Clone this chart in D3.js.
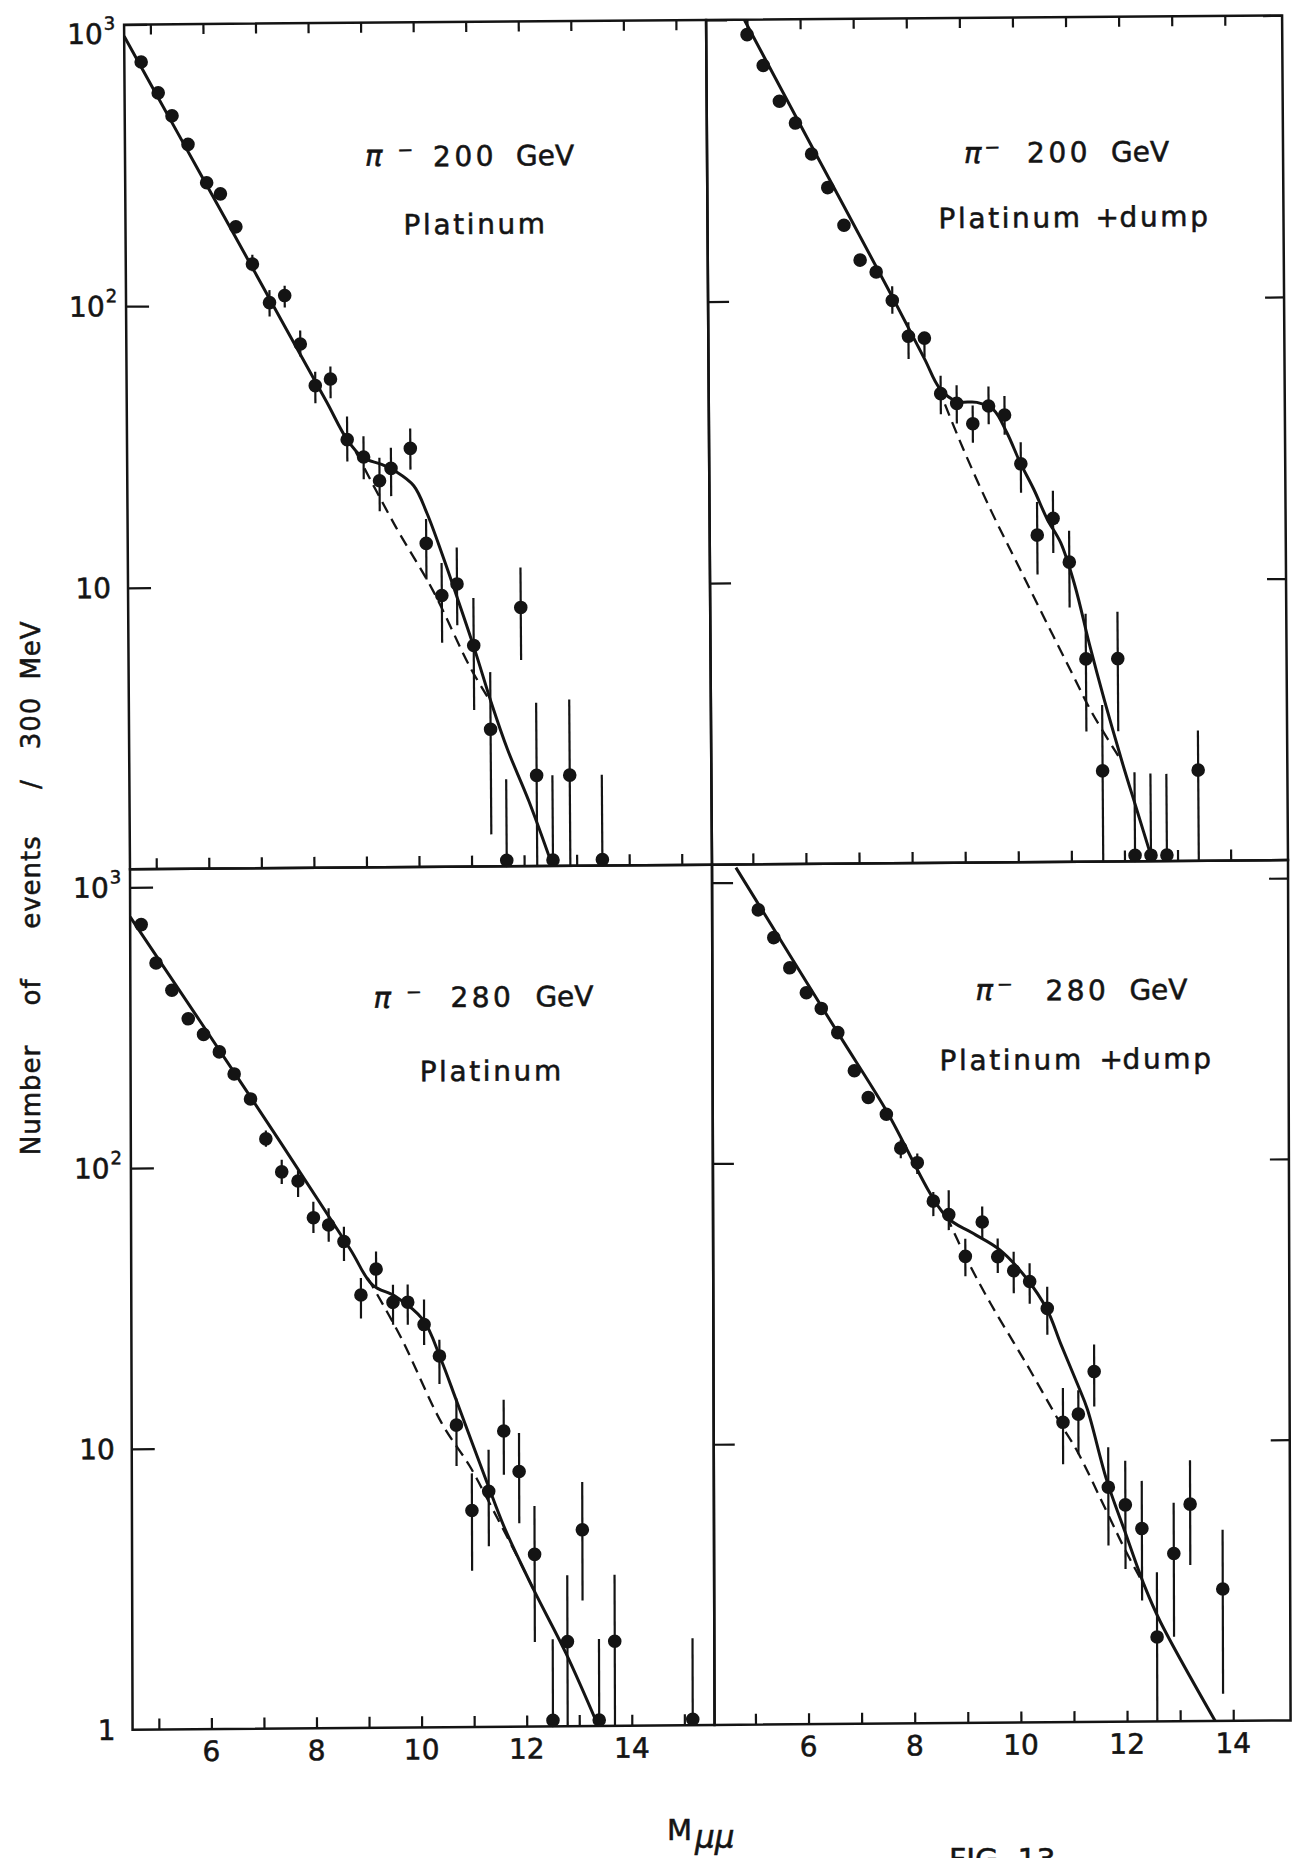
<!DOCTYPE html>
<html>
<head>
<meta charset="utf-8">
<script src="https://cdn.jsdelivr.net/npm/d3@7"></script>
<style>
  html, body { margin: 0; padding: 0; background: #ffffff; }
  svg { display: block; }
  text { font-family: "DejaVu Sans", "Noto Sans", sans-serif; fill: #141414; stroke: #141414; stroke-width: 0.55px; }
</style>
</head>
<body>
<svg id="fig" width="1298" height="1858"></svg>
<script>
// ---------------- data: dimuon mass (GeV) and events / 300 MeV ----------------

// pi- 200 GeV, platinum target
const pt200Mass  = [4.82, 5.14, 5.40, 5.70, 6.05, 6.31, 6.60, 6.91, 7.23, 7.52, 7.81, 8.09, 8.38, 8.69, 9.00, 9.30, 9.52, 9.89, 10.18, 10.47, 10.76, 11.07, 11.38, 11.67, 11.97, 12.25, 12.55, 12.88, 13.49];
const pt200Count = [736, 571, 473, 374, 273, 249, 190, 140, 102, 108, 72.6, 51.6, 54.4, 33.1, 28.7, 23.6, 26.1, 30.7, 14.1, 9.2, 10.1, 6.1, 3.07, 1.05, 8.3, 2.1, 1.05, 2.1, 1.05];
const pt200High  = [null, null, null, null, null, null, null, 151, 113, 117, 81, 57.8, 60.3, 40, 34, 28.5, 30.9, 36.1, 17.2, 12.0, 13.6, 9.0, 4.9, 2.04, 11.5, 3.8, 2.1, 3.9, 2.1];
const pt200Low   = [null, null, null, null, null, null, null, 132, 91, 98, 65.5, 44.7, 46.5, 27.7, 23.9, 18.4, 20.8, 25.8, 10.5, 6.25, 7.2, 3.6, 1.3, 1, 5.4, 1, 1, 1, 1];
const pt200FitMass  = [4.5, 5.5, 6.5, 7.5, 8.3, 8.69, 8.99, 9.34, 9.60, 9.95, 10.2, 10.5, 10.8, 11.1, 11.4, 11.7, 12.1, 12.54];
const pt200FitCount = [910, 413, 188, 85, 45.3, 33.1, 28.5, 27, 25.5, 22.6, 18.0, 12.6, 8.6, 5.8, 3.8, 2.6, 1.7, 1.0];
const pt200ContMass  = [8.85, 9.6, 10.3, 11.0, 11.4];
const pt200ContCount = [30, 16.2, 9.6, 5.1, 3.8];

// pi- 200 GeV, platinum + dump
const pd200Mass  = [5.0, 5.3, 5.6, 5.9, 6.2, 6.5, 6.8, 7.1, 7.4, 7.7, 8.0, 8.3, 8.6, 8.9, 9.2, 9.5, 9.8, 10.1, 10.4, 10.7, 11.0, 11.3, 11.6, 11.9, 12.2, 12.5, 12.8, 13.4];
const pd200Count = [885, 687, 512, 428, 332, 252, 185, 139, 126, 99.7, 74.3, 73.1, 46.4, 42.8, 36.2, 41.8, 38.8, 26, 14.5, 16.6, 11.6, 5.25, 2.1, 5.25, 1.05, 1.05, 1.05, 2.1];
const pd200High  = [null, null, null, null, null, null, null, null, null, 112, 83.4, 76.7, 53.7, 49.6, 42, 49, 45.3, 31, 19, 20.8, 15, 7.6, 3.6, 7.7, 2.07, 2.05, 2.04, 2.9];
const pd200Low   = [null, null, null, null, null, null, null, null, null, 89.4, 61.7, 62.5, 39.2, 36.3, 31, 36, 33, 20.5, 10.5, 12.5, 8, 2.9, 1, 2.9, 1, 1, 1, 1];
const pd200FitMass  = [4.95, 6.24, 7.71, 8.3, 8.58, 8.90, 9.28, 9.59, 9.84, 10.09, 10.34, 10.59, 10.84, 11.1, 11.37, 11.65, 11.97, 12.25, 12.53];
const pd200FitCount = [1000, 343, 102, 61.7, 48.5, 43.5, 43.1, 40.6, 33.6, 26.2, 21.1, 16.5, 13.6, 9.6, 5.9, 3.7, 2.25, 1.5, 1.0];
const pd200ContMass  = [8.55, 9.0, 9.53, 10.03, 10.53, 11.03, 11.4, 11.85, 11.97];
const pd200ContCount = [49, 30, 17.8, 11.4, 7.3, 4.7, 3.4, 2.45, 2.25];

// pi- 280 GeV, platinum target
const pt280Mass  = [4.71, 4.99, 5.29, 5.60, 5.89, 6.19, 6.47, 6.78, 7.07, 7.37, 7.68, 7.97, 8.26, 8.55, 8.87, 9.16, 9.48, 9.76, 10.07, 10.36, 10.68, 10.97, 11.29, 11.58, 11.87, 12.16, 12.50, 12.78, 13.07, 13.38, 13.68, 15.16];
const pt280Count = [736, 537, 429, 339, 298, 258, 215, 175, 126, 96, 89, 65.8, 61.9, 54, 34.8, 43, 32.7, 32.7, 27.2, 21, 11.9, 5.9, 6.9, 11.3, 8.1, 4.1, 1.05, 2.0, 5.0, 1.05, 2.0, 1.05];
const pt280High  = [null, null, null, null, null, null, null, null, 135, 106, 97, 75, 71, 61, 40, 49.7, 37.8, 37.8, 33.4, 24, 14.8, 8.0, 9.7, 14.6, 11.1, 6.1, 2.04, 3.45, 7.4, 2.04, 3.45, 2.04];
const pt280Low   = [null, null, null, null, null, null, null, null, 118, 87, 78, 58, 54, 46, 28.7, 37.3, 27.2, 27.2, 23, 16.7, 8.5, 3.6, 4.4, 7.9, 5.3, 2.0, 1, 1, 2.8, 1, 1, 1];
const pt280FitMass  = [4.5, 6.78, 8.66, 9.09, 9.53, 10.05, 10.39, 10.69, 11.26, 11.61, 12.14, 12.75, 13.36];
const pt280FitCount = [785, 178, 51, 37.8, 34.3, 28.3, 20.4, 14.4, 7.4, 5.0, 3.07, 1.82, 1.0];
const pt280ContMass  = [9.0, 9.62, 10.40, 10.93, 11.26, 11.87, 12.14];
const pt280ContCount = [40, 24.7, 12.1, 8.5, 6.5, 3.9, 3.07];

// pi- 280 GeV, platinum + dump
const pd280Mass  = [5.10, 5.39, 5.69, 6.00, 6.28, 6.59, 6.90, 7.16, 7.50, 7.77, 8.08, 8.38, 8.67, 8.98, 9.30, 9.59, 9.89, 10.19, 10.52, 10.81, 11.10, 11.40, 11.66, 11.98, 12.29, 12.57, 12.89, 13.20, 13.81];
const pd280Count = [798, 635, 495, 403, 354, 290, 212, 170, 148, 112, 99.3, 72.4, 64.7, 45.9, 60.8, 45.7, 40.7, 37.2, 29.8, 11.7, 12.5, 17.7, 6.85, 5.92, 4.87, 2.0, 3.96, 5.93, 2.95];
const pd280High  = [null, null, null, null, null, null, null, null, null, 120, 107, 78, 79, 53, 69, 53, 47.5, 43.2, 35.6, 15.5, 15.2, 22.1, 9.5, 8.5, 7.2, 3.4, 6.0, 8.5, 4.8];
const pd280Low   = [null, null, null, null, null, null, null, null, null, 103, 90.5, 64, 57, 39, 53, 40, 33.8, 31.0, 24, 8.3, 9.0, 13.3, 4.25, 3.5, 2.7, 1, 2.0, 3.6, 1.25];
const pd280FitMass  = [4.68, 6.56, 7.48, 8.62, 9.1, 9.63, 10.13, 10.52, 10.77, 11.09, 11.27, 11.63, 11.98, 12.34, 12.63, 13.66];
const pd280FitCount = [1130, 296, 155, 63.8, 55.8, 48.3, 38.2, 29.4, 22.3, 15.9, 13.0, 7.26, 4.7, 3.03, 2.27, 1.0];
const pd280ContMass  = [8.63, 8.98, 9.45, 10.12, 10.76, 11.08, 11.63, 11.98, 12.34];
const pd280ContCount = [64, 45.9, 31.2, 19.0, 11.6, 9.2, 5.6, 4.07, 3.03];

// ---------------- axes: tick values and labels ----------------
const leftMassTicks  = [5, 6, 7, 8, 9, 10, 11, 12, 13, 14, 15];
const rightMassTicks = [5, 6, 7, 8, 9, 10, 11, 12, 13, 14];
const massLabels     = [6, 8, 10, 12, 14];
const countTicks     = [10, 100, 1000];
const countLabelsTop    = [1000, 100, 10];
const countLabelsBottom = [1000, 100, 10, 1];
const yTitleWords = ["Number", "of", "events", "/", "300", "MeV"];

// ---------------- layout ----------------
const ink = "#141414";
const leftX  = [130, 712];
const rightX = [712, 1288];
const leftMassDomain  = [4.5, 15.575];
const rightMassDomain = [4.23, 15.08];
const rows = {
  top:    { frame: [20, 864.7],   one: 864.7, thousand: 20,
            // slight tilt and shear of the mounted sheet
            transform: "matrix(1,-0.008,0.007,1,-6.055,5.696)", topTicks: true },
  bottom: { frame: [864.7, 1725], one: 1725,  thousand: 882.7,
            transform: "matrix(1,-0.008,0.003,1,-2.595,5.696)", topTicks: false }
};

// pi: start of the beam symbol; minusGap: shift of the raised minus after it
const panels = [
  { row: "top", side: "left", mass: pt200Mass, count: pt200Count, hi: pt200High, lo: pt200Low,
    fit: [pt200FitMass, pt200FitCount], cont: [pt200ContMass, pt200ContCount],
    energy: "200", target: ["Platinum"],
    text: { pi: [370, 163], minusGap: 15, energyX: 438, gevX: 521, energyY: 164,
            targetX: [408], targetY: 232 },
    labels: countLabelsTop },
  { row: "top", side: "right", mass: pd200Mass, count: pd200Count, hi: pd200High, lo: pd200Low,
    fit: [pd200FitMass, pd200FitCount], cont: [pd200ContMass, pd200ContCount],
    energy: "200", target: ["Platinum", "+", "dump"],
    text: { pi: [969, 165], minusGap: 3, energyX: 1032, gevX: 1116, energyY: 165,
            targetX: [943, 1100, 1124], targetY: 230 } },
  { row: "bottom", side: "left", mass: pt280Mass, count: pt280Count, hi: pt280High, lo: pt280Low,
    fit: [pt280FitMass, pt280FitCount], cont: [pt280ContMass, pt280ContCount],
    energy: "280", target: ["Platinum"],
    text: { pi: [373, 1005], minusGap: 15, energyX: 450, gevX: 535, energyY: 1005,
            targetX: [419], targetY: 1079 },
    labels: countLabelsBottom },
  { row: "bottom", side: "right", mass: pd280Mass, count: pd280Count, hi: pd280High, lo: pd280Low,
    fit: [pd280FitMass, pd280FitCount], cont: [pd280ContMass, pd280ContCount],
    energy: "280", target: ["Platinum", "+", "dump"],
    text: { pi: [975, 1002], minusGap: 4, energyX: 1045, gevX: 1129, energyY: 1003,
            targetX: [939, 1099, 1122], targetY: 1072 } }
];

const svg = d3.select("#fig");
const rowGroups = {
  top: svg.append("g").attr("transform", rows.top.transform),
  bottom: svg.append("g").attr("transform", rows.bottom.transform)
};

function styleAxis(a) {
  a.select(".domain").remove();
  a.selectAll("text").remove();
  a.selectAll("line").attr("stroke", ink).attr("stroke-width", 2.2);
}

function drawPanel(p) {
  const r = rows[p.row];
  const g = rowGroups[p.row].append("g");
  const xr = p.side === "left" ? leftX : rightX;
  const x = d3.scaleLinear().domain(p.side === "left" ? leftMassDomain : rightMassDomain).range(xr);
  const y = d3.scaleLog().domain([1, 1000]).range([r.one, r.thousand]);
  const massTicks = p.side === "left" ? leftMassTicks : rightMassTicks;

  // frame
  g.append("rect")
    .attr("x", xr[0]).attr("y", r.frame[0])
    .attr("width", xr[1] - xr[0]).attr("height", r.frame[1] - r.frame[0])
    .attr("fill", "none").attr("stroke", ink).attr("stroke-width", 2.5);

  // inward mass ticks
  g.append("g").attr("transform", `translate(0,${r.frame[1]})`)
    .call(d3.axisBottom(x).tickValues(massTicks).tickSize(-11).tickFormat(() => ""))
    .call(styleAxis);
  if (r.topTicks) {
    g.append("g").attr("transform", `translate(0,${r.frame[0]})`)
      .call(d3.axisTop(x).tickValues(massTicks).tickSize(-10).tickFormat(() => ""))
      .call(styleAxis);
  }

  // inward decade ticks
  g.append("g").attr("transform", `translate(${xr[0]},0)`)
    .call(d3.axisLeft(y).tickValues(countTicks).tickSize(p.side === "left" ? -23 : -21).tickFormat(() => ""))
    .call(styleAxis);
  if (p.side === "right") {
    g.append("g").attr("transform", `translate(${xr[1]},0)`)
      .call(d3.axisRight(y).tickValues(countTicks).tickSize(-19).tickFormat(() => ""))
      .call(styleAxis);
  }

  // decade labels
  if (p.labels) {
    p.labels.forEach(v => {
      const power = Math.round(Math.log10(v));
      const yy = y(v) + (v === 1000 && p.row === "top" ? 9 : 0);
      if (power >= 2) {
        const t = g.append("text").attr("x", 73).attr("y", yy + 10).attr("font-size", 28);
        t.append("tspan").text("10");
        t.append("tspan").attr("dx", 1).attr("dy", -14).attr("font-size", 18).text(String(power));
      } else {
        g.append("text").attr("x", 113).attr("y", yy + 10).attr("font-size", 28)
          .attr("text-anchor", "end").text(power === 1 ? "10" : "1");
      }
    });
  }

  // mass labels under the bottom row
  if (p.row === "bottom") {
    massLabels.forEach(v => {
      g.append("text").attr("x", x(v)).attr("y", 1757).attr("font-size", 28)
        .attr("text-anchor", "middle").text(String(v));
    });
  }

  // continuum (dashed) and full fit (solid)
  const line = d3.line().x(d => x(d[0])).y(d => y(d[1])).curve(d3.curveCatmullRom.alpha(0.5));
  g.append("path").datum(d3.zip(p.cont[0], p.cont[1])).attr("d", line)
    .attr("fill", "none").attr("stroke", ink).attr("stroke-width", 2.3)
    .attr("stroke-dasharray", "12 7");
  g.append("path").datum(d3.zip(p.fit[0], p.fit[1])).attr("d", line)
    .attr("fill", "none").attr("stroke", ink).attr("stroke-width", 3)
    .attr("stroke-linejoin", "round");

  // error bars
  const idx = d3.range(p.mass.length);
  g.append("g").selectAll("line").data(idx.filter(i => p.hi[i] != null)).join("line")
    .attr("x1", i => x(p.mass[i])).attr("x2", i => x(p.mass[i]))
    .attr("y1", i => y(p.hi[i])).attr("y2", i => y(p.lo[i]))
    .attr("stroke", ink).attr("stroke-width", 2.2);

  // data points
  g.append("g").selectAll("circle").data(idx).join("circle")
    .attr("cx", i => x(p.mass[i])).attr("cy", i => y(p.count[i]))
    .attr("r", 6.8).attr("fill", ink);

  // beam / target annotation
  const T = p.text;
  const beam = g.append("text").attr("x", T.pi[0]).attr("y", T.pi[1]).attr("font-size", 29);
  beam.append("tspan").attr("font-style", "italic").text("π");
  beam.append("tspan").attr("dx", T.minusGap).attr("font-size", 30).text("⁻");
  g.append("text").attr("x", T.energyX).attr("y", T.energyY).attr("font-size", 28)
    .attr("letter-spacing", 3.5).text(p.energy);
  g.append("text").attr("x", T.gevX).attr("y", T.energyY).attr("font-size", 28)
    .text("GeV");
  p.target.forEach((w, k) => {
    g.append("text").attr("x", T.targetX[k]).attr("y", T.targetY).attr("font-size", 28)
      .attr("letter-spacing", w === "+" ? 0 : 2.6).text(w);
  });
}

panels.forEach(drawPanel);

// vertical axis title
const yTitleCenters = [1100, 992, 882, 784, 723, 650];
yTitleWords.forEach((w, k) => {
  svg.append("text")
    .attr("transform", `translate(31,${yTitleCenters[k]}) rotate(-90)`)
    .attr("text-anchor", "middle").attr("dominant-baseline", "central")
    .attr("font-size", 26).attr("letter-spacing", 1).text(w);
});

// mass axis title
const mt = svg.append("text").attr("x", 667).attr("y", 1840).attr("font-size", 29);
mt.append("tspan").text("M");
mt.append("tspan").attr("dx", 3).attr("dy", 8).attr("font-size", 31).attr("font-style", "italic").text("μμ");

// figure number at the foot of the sheet
svg.append("text").attr("x", 949).attr("y", 1870).attr("font-size", 30).text("FIG. 13");
</script>
</body>
</html>
